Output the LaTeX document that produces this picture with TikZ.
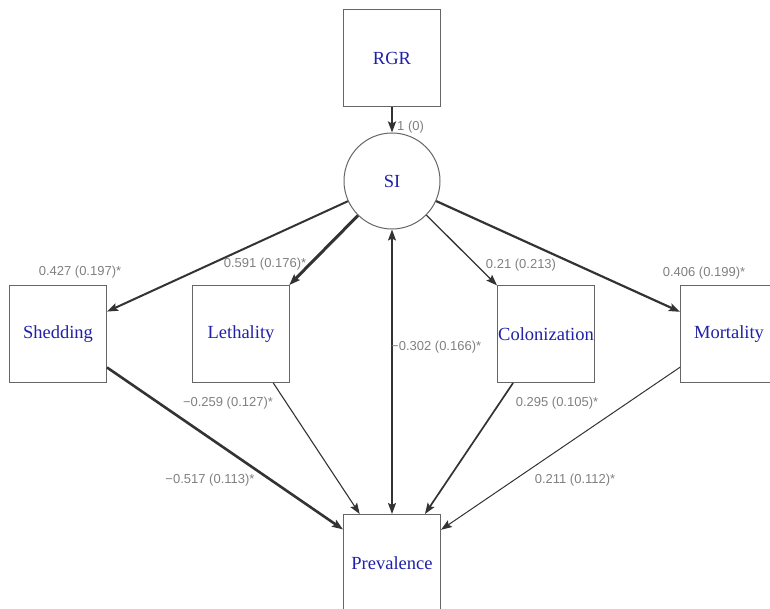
\documentclass[tikz,border=0pt]{standalone}
\usepackage{fontspec}
\setmainfont{Liberation Serif}
\newfontfamily\estfont{Liberation Sans}
\usepackage{tikz}
\usetikzlibrary{shapes.geometric, arrows.meta}
\definecolor{varblue}{RGB}{32,32,168}
\tikzstyle{manifest} = [
    rectangle,
    minimum size=97pt,
    inner sep=0pt,
    draw=black!60,
    line width=1pt,
    text=varblue,
    font=\fontsize{18.5}{20}\selectfont
]
\tikzstyle{latent} = [
    circle,
    minimum size=96pt,
    inner sep=0pt,
    draw=black!60,
    line width=1pt,
    text=varblue,
    font=\fontsize{18.5}{20}\selectfont
]
\tikzstyle{estimate} = [
    inner sep=0pt,
    text=black!50,
    font=\estfont\fontsize{13}{15}\selectfont
]
\tikzstyle{regress} = [draw=black!80,-{Stealth[length=11pt,width=8pt,inset=2pt]}]
\tikzstyle{covary} = [draw=black!80,{Stealth[length=11pt,width=8pt,inset=2pt]}-{Stealth[length=11pt,width=8pt,inset=2pt]}]

\begin{document}
\begin{tikzpicture}[x=1pt,y=-1pt]
\useasboundingbox (0,0) rectangle (770,609);
\clip (0,0) rectangle (770,609);

\node (rgr) [manifest] at (392,58) {RGR};
\node (si) [latent] at (392,181) {SI};
\node (shed) [manifest] at (58,334) {Shedding};
\node (leth) [manifest] at (241,334) {Lethality};
\node (colon) [manifest] at (546,334) {Colonization};
\node (mort) [manifest] at (729,334) {Mortality};
\node (prev) [manifest] at (392,563) {Prevalence};

\draw [regress, line width=2.5pt] (rgr) -- (si);
\draw [regress, line width=2pt] (si) -- (shed);
\draw [regress, line width=3pt] (si) -- (leth);
\draw [regress, line width=1.3pt] (si) -- (colon);
\draw [regress, line width=2.2pt] (si) -- (mort);
\draw [covary, line width=1.5pt] (si) -- (prev);
\draw [regress, line width=2.6pt] (shed) -- (prev);
\draw [regress, line width=1.1pt] (leth) -- (prev);
\draw [regress, line width=1.7pt] (colon) -- (prev);
\draw [regress, line width=1pt] (mort) -- (prev);

\node (e1) [estimate, anchor=west] at (397,127) {1 (0)};
\node (e2) [estimate] at (80,272) {0.427 (0.197)*};
\node (e3) [estimate] at (265,264) {0.591 (0.176)*};
\node (e4) [estimate] at (521,265) {0.21 (0.213)};
\node (e5) [estimate] at (704,273) {0.406 (0.199)*};
\node (e6) [estimate, anchor=west] at (391,347) {−0.302 (0.166)*};
\node (e7) [estimate] at (228,403) {−0.259 (0.127)*};
\node (e8) [estimate] at (557,403) {0.295 (0.105)*};
\node (e9) [estimate] at (210,480) {−0.517 (0.113)*};
\node (e10) [estimate] at (575,480) {0.211 (0.112)*};

\end{tikzpicture}
\end{document}
